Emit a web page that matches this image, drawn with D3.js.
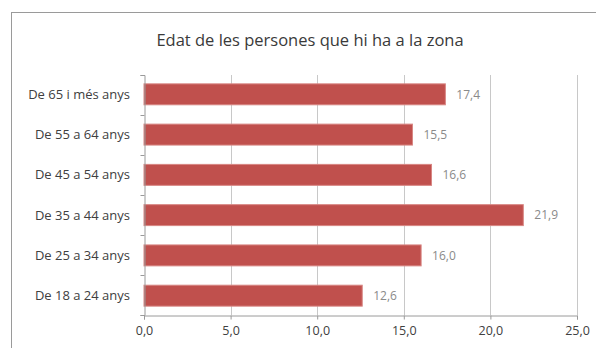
<!DOCTYPE html>
<html>
<head>
<meta charset="utf-8">
<script src="https://cdn.jsdelivr.net/npm/d3@7"></script>
<style>
  html, body { margin: 0; padding: 0; background: #fff; }
  svg { display: block; }
  text { font-family: "Open Sans", "Liberation Sans", sans-serif; }
</style>
</head>
<body>
<svg id="chart" width="596" height="348"></svg>
<script>
// Age groups, listed bottom to top as in the chart
const categories = ["De 18 a 24 anys", "De 25 a 34 anys", "De 35 a 44 anys", "De 45 a 54 anys", "De 55 a 64 anys", "De 65 i més anys"];
const values = [12.6, 16.0, 21.9, 16.6, 15.5, 17.4];
const xTicks = [0, 5, 10, 15, 20, 25];
const title = "Edat de les persones que hi ha a la zona";

const svg = d3.select("#chart");
const plot = { left: 144, right: 577, top: 75, bottom: 315 };
const fmt = v => d3.format(".1f")(v).replace(".", ",");

// Outer chart frame
svg.append("rect")
  .attr("x", 11.5).attr("y", 12.5)
  .attr("width", 620).attr("height", 360)
  .attr("fill", "#fff").attr("stroke", "#9a9a9a").attr("stroke-width", 1);

// Title
svg.append("text")
  .attr("x", 310).attr("y", 46)
  .attr("text-anchor", "middle")
  .attr("font-size", 16.5).attr("fill", "#3a3a3a")
  .text(title);

const x = d3.scaleLinear().domain([0, 25]).range([plot.left, plot.right]);
const y = d3.scaleBand().domain(categories.slice().reverse())
  .range([plot.top, plot.bottom]).paddingInner(0.48).paddingOuter(0.22);

// Vertical gridlines
svg.append("g").selectAll("line").data(xTicks.slice(1)).join("line")
  .attr("x1", d => Math.round(x(d)) + 0.5).attr("x2", d => Math.round(x(d)) + 0.5)
  .attr("y1", plot.top).attr("y2", plot.bottom)
  .attr("stroke", "#c8c8c8").attr("stroke-width", 1);

// Bars
svg.append("g").selectAll("rect").data(categories).join("rect")
  .attr("x", x(0))
  .attr("y", d => y(d))
  .attr("width", (d, i) => x(values[i]) - x(0))
  .attr("height", y.bandwidth())
  .attr("fill", "#c0504d")
  .attr("stroke", "#d88683").attr("stroke-width", 1);

// Value labels
svg.append("g").selectAll("text").data(categories).join("text")
  .attr("x", (d, i) => x(values[i]) + 11)
  .attr("y", d => y(d) + y.bandwidth() / 2)
  .attr("dy", "0.35em")
  .attr("font-size", 12).attr("fill", "#8a8a8a")
  .text((d, i) => fmt(values[i]));

// Category axis
const yAxis = svg.append("g")
  .attr("transform", `translate(${plot.left + 0.5},0)`)
  .call(d3.axisLeft(d3.scalePoint().domain(d3.range(7)).range([plot.top, plot.bottom]))
    .tickSize(4).tickFormat(""));
yAxis.select(".domain").attr("stroke", "#9a9a9a");
yAxis.selectAll(".tick line").attr("stroke", "#9a9a9a");

svg.append("g").selectAll("text").data(categories).join("text")
  .attr("x", 130)
  .attr("y", d => y(d) + y.bandwidth() / 2)
  .attr("dy", "0.35em")
  .attr("text-anchor", "end")
  .attr("font-size", 13).attr("fill", "#404040")
  .text(d => d);

// Value axis
const xAxis = svg.append("g")
  .attr("transform", `translate(0,${plot.bottom + 0.5})`)
  .call(d3.axisBottom(x).tickValues(xTicks).tickSize(4).tickPadding(7).tickFormat(fmt));
xAxis.select(".domain").attr("stroke", "#9a9a9a");
xAxis.selectAll(".tick line").attr("stroke", "#9a9a9a");
xAxis.selectAll(".tick text")
  .attr("font-size", 12.5).attr("fill", "#404040")
  .attr("font-family", "\"Open Sans\", \"Liberation Sans\", sans-serif");
</script>
</body>
</html>
